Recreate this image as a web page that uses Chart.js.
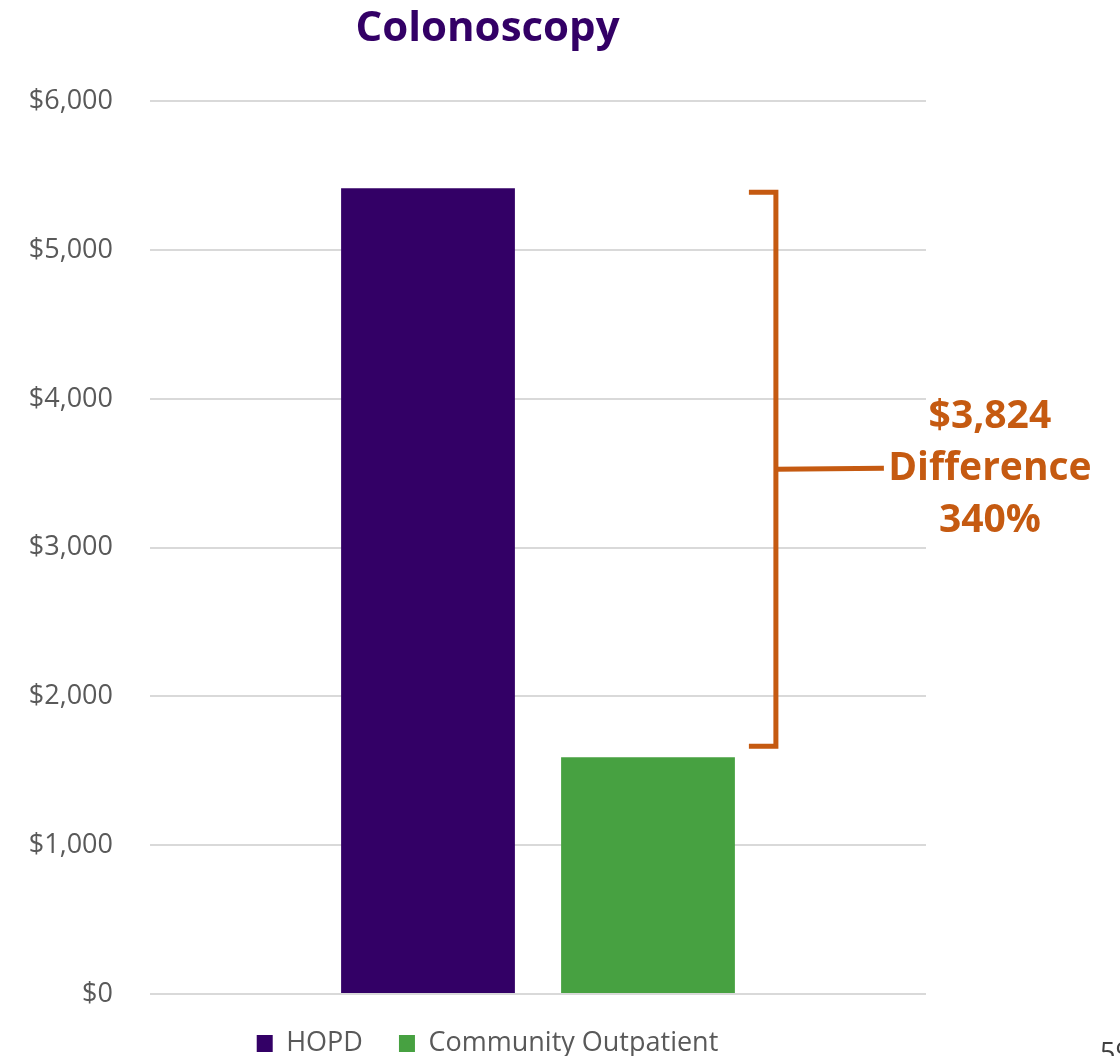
<!DOCTYPE html>
<html>
<head>
<meta charset="utf-8">
<title>Colonoscopy</title>
<script src="https://cdn.jsdelivr.net/npm/chart.js@4"></script>
<style>
  html, body { margin: 0; padding: 0; background: #fff; }
  #wrap { width: 1120px; height: 1056px; position: relative; }
</style>
</head>
<body>
<div id="wrap"><canvas id="chart"></canvas></div>
<script>
// chart data
let categories = ["Colonoscopy"];
let seriesNames = ["HOPD", "Community Outpatient"];
let hopdCost = [5416];
let communityCost = [1592];
let seriesColors = ["#330066", "#47A141"];
let yTicks = [0, 1000, 2000, 3000, 4000, 5000, 6000];
let diffLines = ["$3,824", "Difference", "340%"];
let pageNumber = "59";

const ORANGE = "#C55A11";
const FONT = "'Open Sans', sans-serif";

function money(v) {
    return "$" + v.toLocaleString("en-US");
}

// bracket + difference callout next to the bars
let bracketPlugin = {
    id: "bracket",
    afterDatasetsDraw(chart) {
        let ctx = chart.ctx;
        let y = chart.scales.y;
        let bar = chart.getDatasetMeta(1).data[0];
        let x = bar.x + bar.width / 2 + 41;
        let top = y.getPixelForValue(hopdCost[0]) + 4;
        let bottom = y.getPixelForValue(communityCost[0]) - 11;
        let mid = (top + bottom) / 2;

        ctx.save();
        ctx.strokeStyle = ORANGE;
        ctx.lineWidth = 5;
        ctx.lineCap = "butt";
        ctx.beginPath();
        ctx.moveTo(x - 27, top);
        ctx.lineTo(x, top);
        ctx.lineTo(x, bottom);
        ctx.lineTo(x - 27, bottom);
        ctx.stroke();
        ctx.beginPath();
        ctx.moveTo(x, mid);
        ctx.lineTo(x + 108, mid - 1);
        ctx.stroke();

        ctx.fillStyle = ORANGE;
        ctx.font = "bold 39px " + FONT;
        ctx.textAlign = "center";
        ctx.textBaseline = "middle";
        diffLines.forEach((t, i) => {
            ctx.fillText(t, x + 214, mid + (i - 1) * 52);
        });

        // slide number, clipped at the bottom-right corner
        ctx.fillStyle = "#404040";
        ctx.font = "27px " + FONT;
        ctx.textAlign = "left";
        ctx.textBaseline = "alphabetic";
        ctx.fillText(pageNumber, 1100, 1062);
        ctx.restore();
    }
};

new Chart(document.getElementById("chart"), {
    type: "bar",
    data: {
        labels: categories,
        datasets: [
            { label: seriesNames[0], data: hopdCost, backgroundColor: seriesColors[0] },
            { label: seriesNames[1], data: communityCost, backgroundColor: seriesColors[1] }
        ]
    },
    options: {
        responsive: true,
        maintainAspectRatio: false,
        animation: false,
        categoryPercentage: 0.567,
        barPercentage: 0.79,
        layout: { padding: { left: 0, right: 145, top: 0, bottom: -11 } },
        plugins: {
            title: {
                display: true,
                text: "Colonoscopy",
                color: "#330066",
                font: { family: FONT, size: 42, weight: "bold", lineHeight: 1.2 },
                padding: { top: 4, bottom: 47 }
            },
            legend: {
                position: "bottom",
                labels: {
                    color: "#595959",
                    font: { family: FONT, size: 27 },
                    boxWidth: 16,
                    boxHeight: 17,
                    padding: 36
                }
            },
            tooltip: { enabled: false }
        },
        scales: {
            x: { display: false },
            y: {
                min: 0,
                max: 6000,
                afterFit(scale) { scale.width = 150; },
                afterBuildTicks(scale) { scale.ticks = yTicks.map(v => ({ value: v })); },
                border: { display: false },
                grid: { color: "#D9D9D9", lineWidth: 2, drawTicks: false },
                ticks: {
                    color: "#595959",
                    font: { family: FONT, size: 27 },
                    padding: 37,
                    callback: v => money(v)
                }
            },
            // empty strip on the right that holds the callout space
            yRight: {
                position: "right",
                min: 0,
                max: 6000,
                afterFit(scale) { scale.width = 49; },
                border: { display: false },
                grid: { display: false, drawTicks: false },
                ticks: { display: false }
            }
        }
    },
    plugins: [bracketPlugin]
});
</script>
</body>
</html>
